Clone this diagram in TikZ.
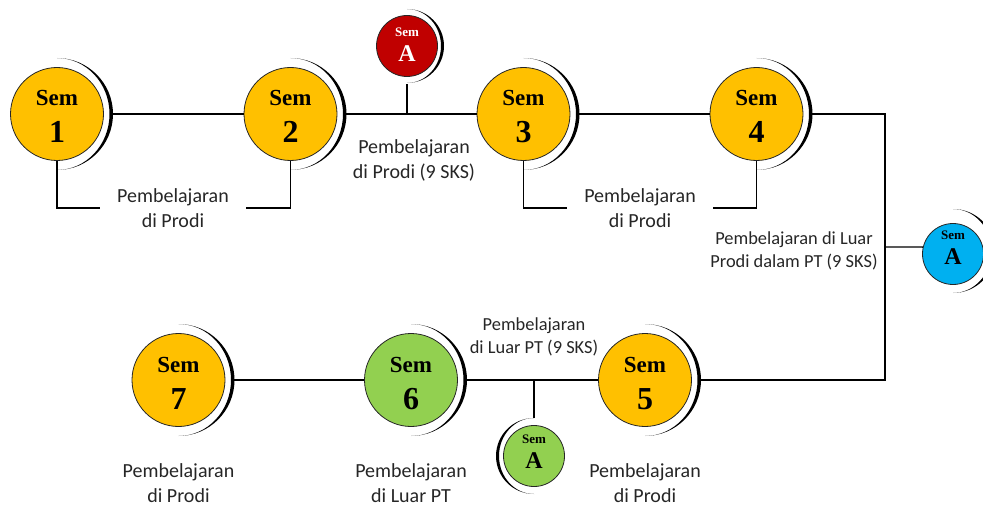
\documentclass[tikz,border=0pt]{standalone}
\usepackage{fontspec}
\setmainfont{Liberation Serif}
\newfontfamily\labfont{Carlito}
\definecolor{semyellow}{HTML}{FFC000}
\definecolor{semgreen}{HTML}{92D050}
\definecolor{semred}{HTML}{C00000}
\definecolor{semblue}{HTML}{00B0F0}
\tikzset{
  sem/.style={circle, draw=black!85, line width=0.8pt, minimum size=93pt, inner sep=0pt},
  semsmall/.style={circle, draw=black!85, line width=0.8pt, minimum size=61pt, inner sep=0pt},
  conn/.style={line width=1.4pt, black},
  lab/.style={font=\labfont\fontsize{20}{25}\selectfont, text=black!85, align=center, inner xsep=17pt, inner ysep=0pt},
  labs/.style={font=\labfont\fontsize{18.4}{22.5}\selectfont, text=black!85, align=center, inner sep=0pt},
  semword/.style={font=\bfseries\fontsize{23}{23}\selectfont, anchor=base, inner sep=0pt},
  semdigit/.style={font=\bfseries\fontsize{32}{32}\selectfont, anchor=base, inner sep=0pt},
  semwordsmall/.style={font=\bfseries\fontsize{13}{13}\selectfont, anchor=base, inner sep=0pt},
  semdigitsmall/.style={font=\bfseries\fontsize{24}{24}\selectfont, anchor=base, inner sep=0pt},
}
\newcommand\bigsem[5]{%
  \node[sem, fill=#4] (#1) at (#2,#3) {};
  \node[semword] (#1w) at (#2,#3+8) {Sem};
  \node[semdigit] (#1d) at (#2,#3-29) {#5};
  \fill (#2,#3+56) arc[start angle=90,end angle=-90,radius=56]
        arc[start angle=-90,end angle=90,x radius=52.5,y radius=56] -- cycle;
}
\begin{document}
\begin{tikzpicture}[x=1pt,y=1pt]
\useasboundingbox (0,0) rectangle (983,-508);
\clip (0,0) rectangle (983,-508);

% big semester circles
\bigsem{s1}{57}{-114}{semyellow}{1}
\bigsem{s2}{290.5}{-114}{semyellow}{2}
\bigsem{s3}{523.5}{-114}{semyellow}{3}
\bigsem{s4}{756.5}{-114}{semyellow}{4}
\bigsem{s5}{645}{-380}{semyellow}{5}
\bigsem{s6}{411}{-380}{semgreen}{6}
\bigsem{s7}{178.5}{-380}{semyellow}{7}

% red Sem A
\node[semsmall, fill=semred] (ra) at (407,-46) {};
\node[semwordsmall, text=white] (raw) at (407,-37) {Sem};
\node[semdigitsmall, text=white] (rad) at (407,-62) {A};
\fill (407,-9) arc[start angle=90,end angle=-90,radius=37]
      arc[start angle=-90,end angle=90,x radius=34,y radius=37] -- cycle;

% blue Sem A
\node[semsmall, fill=semblue] (ba) at (953,-254) {};
\node[semwordsmall] (baw) at (953,-239) {Sem};
\node[semdigitsmall] (bad) at (953,-264) {A};
\fill (953,-209) arc[start angle=90,end angle=-90,radius=42]
      arc[start angle=-90,end angle=90,x radius=38.5,y radius=42] -- cycle;

% green Sem A
\node[semsmall, fill=semgreen] (ga) at (534,-456) {};
\node[semwordsmall] (gaw) at (534,-443) {Sem};
\node[semdigitsmall] (gad) at (534,-468) {A};
\fill (534,-418) arc[start angle=90,end angle=270,radius=38]
      arc[start angle=270,end angle=90,x radius=35,y radius=38] -- cycle;

% junction coordinates
\coordinate (tr) at (885,-114);
\coordinate (br) at (885,-380);
\coordinate (bj) at (885,-247);
\coordinate (rj) at (407,-114);
\coordinate (gj) at (534,-380);

% main connectors
\draw[conn] ([xshift=9pt]s1.east) -- (s2.west);
\draw[conn] ([xshift=9pt]s2.east) -- (s3.west);
\draw[conn] ([xshift=9pt]s3.east) -- (s4.west);
\draw[conn] ([xshift=9pt]s4.east) -- (tr) -- (br) -- ([xshift=9pt]s5.east);
\draw[conn] ([xshift=9pt]s6.east) -- (s5.west);
\draw[conn] ([xshift=9pt]s7.east) -- (s6.west);
\draw[conn] (bj) -- (ba.167);
\draw[conn] (rj) -- ([yshift=-7pt]ra.south);
\draw[conn] (gj) -- ([yshift=7pt]ga.north);

% bracket labels
\node[lab] (l12) at (173,-208) {Pembelajaran\\di Prodi};
\draw[conn] (s1.south) |- (l12.west);
\draw[conn] (s2.south) |- (l12.east);
\node[lab] (l34) at (640,-208) {Pembelajaran\\di Prodi};
\draw[conn] (s3.south) |- (l34.west);
\draw[conn] (s4.south) |- (l34.east);

% other labels
\node[lab] (lra) at (414,-160) {Pembelajaran\\di Prodi (9 SKS)};
\node[labs] (lba) at (794,-251) {Pembelajaran di Luar\\Prodi dalam PT (9 SKS)};
\node[labs] (lga) at (534,-337) {Pembelajaran\\di Luar PT (9 SKS)};
\node[lab] (l7) at (178.5,-483) {Pembelajaran\\di Prodi};
\node[lab] (l6) at (411,-483) {Pembelajaran\\di Luar PT};
\node[lab] (l5) at (645,-483) {Pembelajaran\\di Prodi};
\end{tikzpicture}
\end{document}
